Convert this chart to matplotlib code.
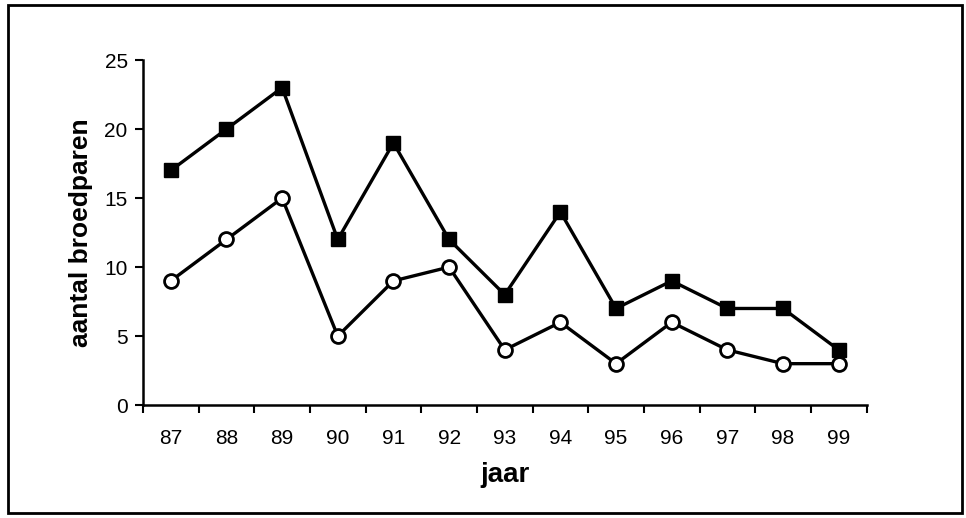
import matplotlib
matplotlib.use("Agg")
import matplotlib.pyplot as plt
from matplotlib.patches import Rectangle

years = ["87", "88", "89", "90", "91", "92", "93", "94", "95", "96", "97", "98", "99"]
totaal = [17, 20, 23, 12, 19, 12, 8, 14, 7, 9, 7, 7, 4]
deel = [9, 12, 15, 5, 9, 10, 4, 6, 3, 6, 4, 3, 3]

plt.rcParams["font.family"] = ["Liberation Sans", "DejaVu Sans"]

fig = plt.figure(figsize=(9.66, 5.18), dpi=100)
ax = fig.add_axes([0.148, 0.218, 0.749, 0.666])

x = list(range(len(years)))
ax.plot(x, totaal, color="black", linewidth=2.4, marker="s", markersize=10,
        markerfacecolor="black", markeredgecolor="black", zorder=3)
ax.plot(x, deel, color="black", linewidth=2.4, marker="o", markersize=10,
        markerfacecolor="white", markeredgecolor="black", markeredgewidth=2, zorder=3)

ax.set_xlim(-0.5, len(years) - 0.5)
ax.set_ylim(0, 25)
ax.set_yticks([0, 5, 10, 15, 20, 25])
ax.set_xticks(x)
ax.set_xticklabels(years)
ax.set_xticks([i - 0.5 for i in range(len(years) + 1)], minor=True)

ax.tick_params(axis="x", which="major", length=0, pad=17, labelsize=15)
ax.tick_params(axis="x", which="minor", length=6, width=1.5, direction="out")
ax.tick_params(axis="y", length=6, width=1.5, direction="out", pad=5, labelsize=15)

for s in ["top", "right"]:
    ax.spines[s].set_visible(False)
for s in ["left", "bottom"]:
    ax.spines[s].set_linewidth(1.8)

ax.set_xlabel("jaar", fontsize=20, fontweight="bold", labelpad=10)
ax.set_ylabel("aantal broedparen", fontsize=19, fontweight="bold", labelpad=8)

fig.patches.append(Rectangle((0.008, 0.01), 0.988, 0.98, transform=fig.transFigure,
                             fill=False, edgecolor="black", linewidth=2))

fig.savefig("out.png", dpi=100)
plt.close(fig)
